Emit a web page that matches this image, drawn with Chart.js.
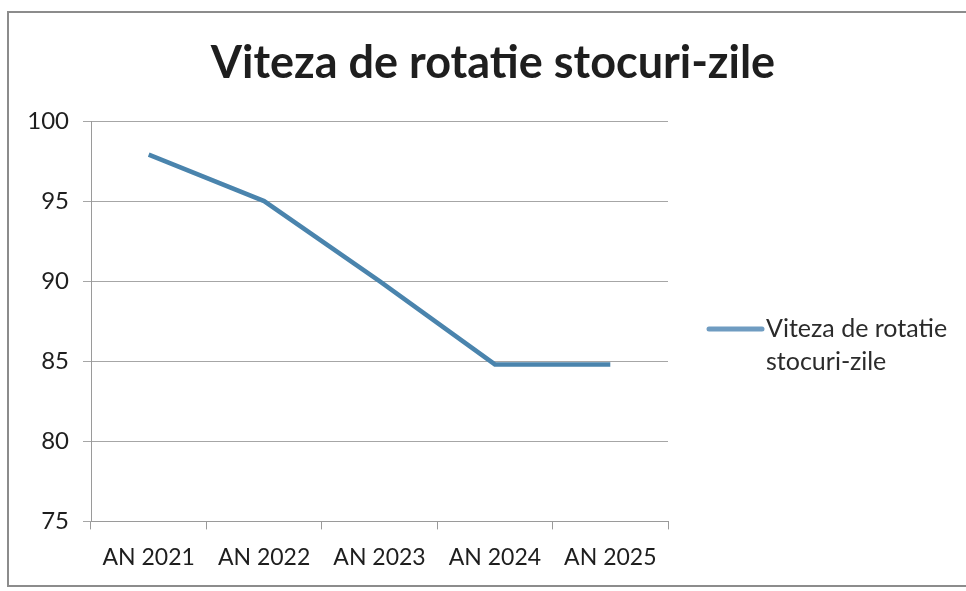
<!DOCTYPE html>
<html>
<head>
<meta charset="utf-8">
<script src="https://cdn.jsdelivr.net/npm/chart.js@4/dist/chart.umd.min.js"></script>
<style>
  html, body { margin: 0; padding: 0; background: #fff; overflow: hidden; }
  #wrap { position: relative; width: 966px; height: 591px; }
  #frame { position: absolute; left: 7px; top: 11px; width: 1000px; height: 572px;
           border: 2px solid #8c8c8c; pointer-events: none; }
</style>
</head>
<body>
<div id="wrap">
  <canvas id="c" width="966" height="591"></canvas>
  <div id="frame"></div>
</div>
<script>
const chartTitle = "Viteza de rotatie stocuri-zile";
const categories = ["AN 2021", "AN 2022", "AN 2023", "AN 2024", "AN 2025"];
const seriesLabel = ["Viteza de rotatie", "stocuri-zile"];
const seriesValues = [97.9, 95, 90, 84.8, 84.8];
const yMin = 75, yMax = 100, yStep = 5;

const lineColor = "#4a84ad";
const FONT = "Lato, 'Open Sans', sans-serif";

const customLegend = {
  id: "customLegend",
  afterDraw(chart) {
    const ctx = chart.ctx;
    const ds = chart.data.datasets[0];
    const x0 = chart.chartArea.right + 41;
    const y0 = 329;
    ctx.save();
    ctx.strokeStyle = "#6f9cc1";
    ctx.lineWidth = 5;
    ctx.lineCap = "round";
    ctx.beginPath();
    ctx.moveTo(x0, y0);
    ctx.lineTo(x0 + 53, y0);
    ctx.stroke();
    ctx.fillStyle = "#2b2b2b";
    ctx.font = "25px " + FONT;
    ctx.textBaseline = "middle";
    ctx.textAlign = "left";
    const lines = Array.isArray(ds.label) ? ds.label : [ds.label];
    lines.forEach((t, i) => ctx.fillText(t, x0 + 57, y0 + i * 33));
    ctx.restore();
  }
};

new Chart(document.getElementById("c"), {
  type: "line",
  data: {
    labels: categories,
    datasets: [{
      label: seriesLabel,
      data: seriesValues,
      borderColor: lineColor,
      backgroundColor: lineColor,
      borderWidth: 4.5,
      pointRadius: 0,
      tension: 0,
      fill: false
    }]
  },
  options: {
    responsive: false,
    animation: false,
    devicePixelRatio: 1,
    layout: { padding: { left: 20, right: 0, top: 0, bottom: 6 } },
    plugins: {
      legend: { display: false },
      tooltip: { enabled: false },
      title: {
        display: true,
        text: chartTitle,
        color: "#1e1e1e",
        font: { family: FONT, size: 45, weight: "bold", lineHeight: 1.2 },
        padding: { top: 36, bottom: 31 }
      }
    },
    scales: {
      x: {
        type: "category",
        offset: true,
        grid: { display: true, offset: true, drawOnChartArea: false, drawTicks: true, tickLength: 8, color: "#9a9a9a" },
        border: { display: true, color: "#9a9a9a", width: 1 },
        ticks: { color: "#1e1e1e", padding: 14, font: { family: FONT, size: 23 }, maxRotation: 0, autoSkip: false }
      },
      y: {
        min: yMin, max: yMax,
        afterFit(scale) { scale.width = 71; },
        grid: { color: "#a6a6a6", lineWidth: 1, drawTicks: true, tickLength: 8 },
        border: { display: true, color: "#9a9a9a", width: 1 },
        ticks: { stepSize: yStep, color: "#1e1e1e", padding: 14, font: { family: FONT, size: 24 } }
      },
      yRight: {
        type: "linear",
        position: "right",
        display: true,
        afterFit(scale) { scale.width = 298; },
        grid: { display: false, drawTicks: false },
        border: { display: false },
        ticks: { display: false }
      }
    }
  },
  plugins: [customLegend]
});
</script>
</body>
</html>
